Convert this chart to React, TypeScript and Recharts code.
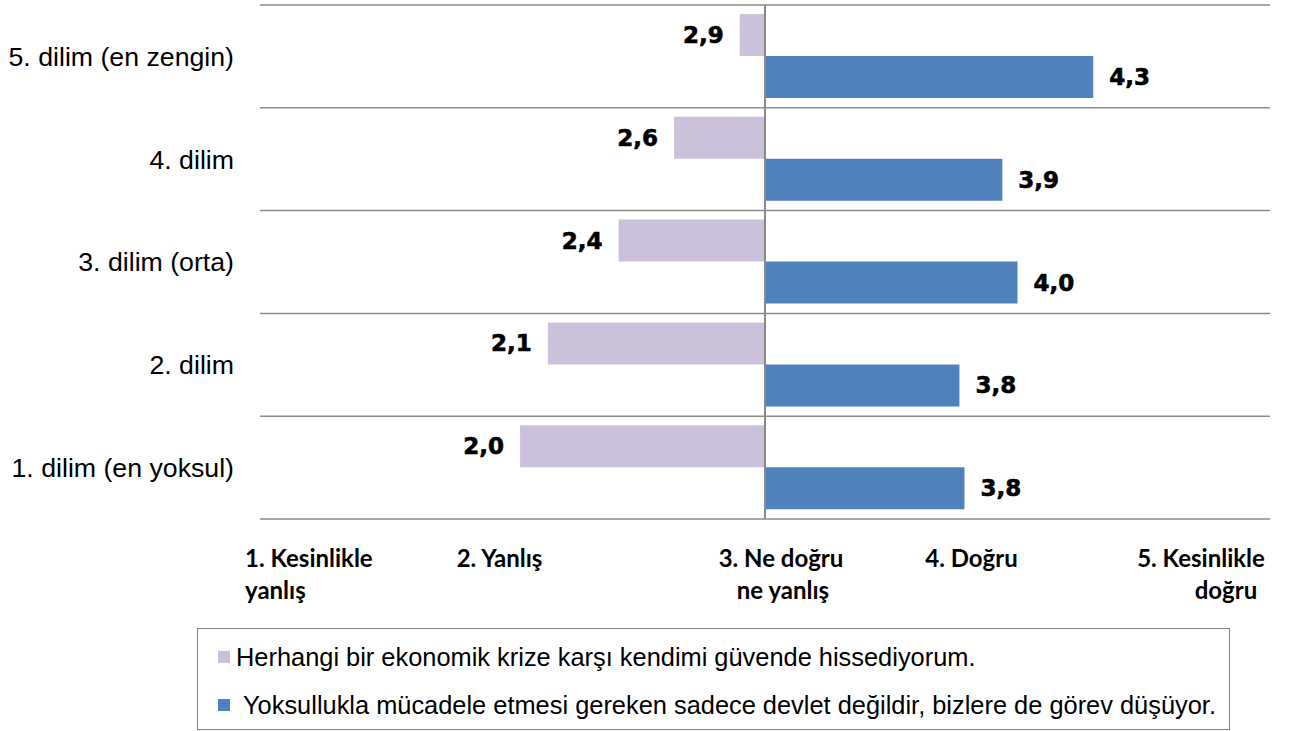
import { BarChart, Bar, XAxis, YAxis, CartesianGrid, ReferenceLine, LabelList, Legend } from 'recharts';

// gelir dilimleri (üstten alta)
const categories = ['5. dilim (en zengin)', '4. dilim', '3. dilim (orta)', '2. dilim', '1. dilim (en yoksul)'];
// ortalama puanlar (1-5 ölçeği)
const guvendeValues = [2.9, 2.64, 2.42, 2.14, 2.03];
const gorevValues = [4.3, 3.94, 4.0, 3.77, 3.79];
const scaleTicks = [1, 2, 3, 4, 5];
const scaleLabels = [
  ['1. Kesinlikle', 'yanlış'],
  ['2. Yanlış'],
  ['3. Ne doğru', 'ne yanlış'],
  ['4. Doğru'],
  ['5. Kesinlikle', 'doğru'],
];
const seriesNames = [
  'Herhangi bir ekonomik krize karşı kendimi güvende hissediyorum.',
  'Yoksullukla mücadele etmesi gereken sadece devlet değildir, bizlere de görev düşüyor.',
];

const MIDPOINT = 3;
const PINK = '#CCC1DA';
const BLUE = '#4F81BD';
const GRID = '#8A8A8A';
const SANS = '"Liberation Sans", Arial, sans-serif';

// çubuklar orta noktadan (3) başlıyor
const chartData = categories.map((name, i) => ({
  name,
  guvende: guvendeValues[i] - MIDPOINT,
  gorev: gorevValues[i] - MIDPOINT,
  guvendeRaw: guvendeValues[i],
  gorevRaw: gorevValues[i],
}));

const formatValue = (v: number) => v.toFixed(1).replace('.', ',');

// Excel'deki kaydırılmış etiket hizalaması
const tickAlign = [
  { anchor: 'start', dx: [-15, -15] },
  { anchor: 'middle', dx: [-13] },
  { anchor: 'middle', dx: [16, 18] },
  { anchor: 'middle', dx: [-46] },
  { anchor: 'middle', dx: [-69, -44] },
];

const ScaleTick = (props: any) => {
  const { x, y, index } = props;
  const lines = scaleLabels[index] || [];
  const align = tickAlign[index];
  return (
    <g>
      {lines.map((line, i) => (
        <text
          key={i}
          x={x + align.dx[i]}
          y={y + 40 + i * 32}
          textAnchor={align.anchor}
          fontFamily="Lato, 'Open Sans', sans-serif"
          fontWeight={700}
          fontSize={24}
          fill="#000"
        >
          {line}
        </text>
      ))}
    </g>
  );
};

const BarValueLabel = (props: any) => {
  const { x, y, width, height, value } = props;
  const left = Math.min(x, x + width);
  const right = Math.max(x, x + width);
  const below = value < MIDPOINT;
  return (
    <text
      x={below ? left - 16 : right + 16}
      y={y + height / 2}
      textAnchor={below ? 'end' : 'start'}
      dominantBaseline="central"
      fontFamily='"DejaVu Sans", sans-serif'
      fontWeight={700}
      fontSize={23}
      stroke="#000"
      strokeWidth={0.6}
      fill="#000"
    >
      {formatValue(value)}
    </text>
  );
};

const LegendBox = () => (
  <div
    style={{
      width: 1033,
      height: 102,
      boxSizing: 'border-box',
      border: '1.5px solid #7F7F7F',
      fontFamily: SANS,
      fontSize: 25.4,
      color: '#000',
      paddingLeft: 20,
      paddingTop: 4,
    }}
  >
    {seriesNames.map((name, i) => (
      <div key={i} style={{ display: 'flex', alignItems: 'center', height: 48, whiteSpace: 'nowrap' }}>
        <span style={{ width: 12, height: 12, background: i === 0 ? PINK : BLUE, display: 'inline-block', marginRight: i === 0 ? 6 : 13 }} />
        <span>{name}</span>
      </div>
    ))}
  </div>
);

export default function App() {
  return (
    <div style={{ position: 'absolute', left: 0, top: 0, background: '#fff' }}>
      <BarChart
        width={1294}
        height={731}
        data={chartData}
        layout="vertical"
        margin={{ top: 5, right: 24, left: 0, bottom: 1 }}
        barGap={0}
        barSize={42}
      >
        <CartesianGrid
          vertical={false}
          stroke={GRID}
          strokeWidth={1.5}
          horizontalCoordinatesGenerator={({ offset }: any) =>
            Array.from({ length: categories.length + 1 }, (_, i) => offset.top + (i * offset.height) / categories.length)
          }
        />
        <XAxis
          type="number"
          domain={[scaleTicks[0] - MIDPOINT, scaleTicks[scaleTicks.length - 1] - MIDPOINT]}
          ticks={scaleTicks.map((t) => t - MIDPOINT)}
          axisLine={false}
          tickLine={false}
          height={109}
          tick={<ScaleTick />}
          interval={0}
        />
        <YAxis
          type="category"
          dataKey="name"
          width={260}
          axisLine={false}
          tickLine={false}
          tickSize={0}
          tickMargin={26}
          tick={{ fontFamily: SANS, fontSize: 26.7, fill: '#000' }}
        />
        <ReferenceLine x={0} stroke={GRID} strokeWidth={2} />
        <Bar dataKey="guvende" name={seriesNames[0]} fill={PINK} isAnimationActive={false}>
          <LabelList dataKey="guvendeRaw" content={<BarValueLabel />} />
        </Bar>
        <Bar dataKey="gorev" name={seriesNames[1]} fill={BLUE} isAnimationActive={false}>
          <LabelList dataKey="gorevRaw" content={<BarValueLabel />} />
        </Bar>
        <Legend
          verticalAlign="bottom"
          align="left"
          width={1033}
          wrapperStyle={{ left: 197 }}
          content={<LegendBox />}
        />
      </BarChart>
    </div>
  );
}
